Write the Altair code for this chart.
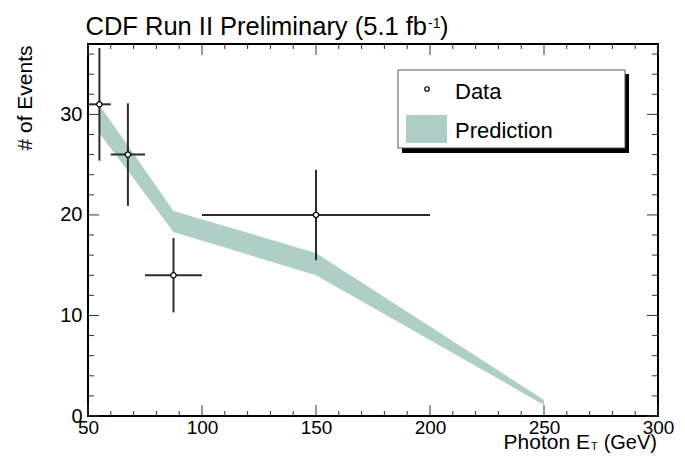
import altair as alt
import pandas as pd

FONT = "Liberation Sans"

# ---- data points (bins, counts, errors) ----
data_x = [55, 67.5, 87.5, 150]
data_xlo = [50, 60, 75, 100]
data_xhi = [60, 75, 100, 200]
data_y = [31, 26, 14, 20]
data_ylo = [25.4, 20.9, 10.3, 15.5]
data_yhi = [36.6, 31.1, 17.7, 24.5]

# ---- prediction band ----
pred_x = [55, 67.5, 87.5, 150, 250]
pred_hi = [30.9, 26.9, 20.4, 16.2, 1.6]
pred_lo = [28.1, 24.4, 18.3, 14.0, 1.1]

# ---- ticks ----
x_major = [50, 100, 150, 200, 250, 300]
x_minor = [v for v in range(60, 300, 10) if v % 50 != 0]
y_major = [0, 10, 20, 30]
y_minor = [v for v in range(2, 37, 2) if v % 10 != 0]

X_DOM = [50, 300]
Y_DOM = [0, 37]
W, H = 570, 372
BAND = "#aecec6"
BAR = "#2b2b2b"

pts = pd.DataFrame({"x": data_x, "xlo": data_xlo, "xhi": data_xhi,
                    "y": data_y, "ylo": data_ylo, "yhi": data_yhi})
band_df = pd.DataFrame({"x": pred_x, "hi": pred_hi, "lo": pred_lo})

xs = alt.Scale(domain=X_DOM, nice=False, zero=False)
ys = alt.Scale(domain=Y_DOM, nice=False, zero=False)

AX = alt.Axis(values=x_major, ticks=False, domain=False, grid=False, title=None,
              labelFontSize=19, labelPadding=2, labelColor="black", labelFont=FONT,
              labelFlush=False, format="d")
AY = alt.Axis(values=y_major, ticks=False, domain=False, grid=False,
              labelFontSize=20, labelPadding=6, labelColor="black", labelFont=FONT,
              title="# of Events", titleFont=FONT, titleFontSize=21,
              titleFontWeight="normal", titleColor="black",
              titleX=-57, titleY=1, titleAngle=270, titleAlign="right",
              titleBaseline="alphabetic", format="d")

band = alt.Chart(band_df).mark_area(color=BAND, opacity=1).encode(
    x=alt.X("x:Q", scale=xs, axis=AX),
    y=alt.Y("hi:Q", scale=ys, axis=AY),
    y2="lo:Q",
)

hbars = alt.Chart(pts).mark_rule(color=BAR, strokeWidth=2).encode(
    x=alt.X("xlo:Q", scale=xs, axis=AX), x2="xhi:Q",
    y=alt.Y("y:Q", scale=ys, axis=AY))
vbars = alt.Chart(pts).mark_rule(color=BAR, strokeWidth=2).encode(
    x=alt.X("x:Q", scale=xs, axis=AX),
    y=alt.Y("ylo:Q", scale=ys, axis=AY), y2="yhi:Q")
dots = alt.Chart(pts).mark_point(shape="circle", filled=True, fill="white",
                                 stroke="black", strokeWidth=1.2, size=28,
                                 opacity=1).encode(
    x=alt.X("x:Q", scale=xs, axis=AX),
    y=alt.Y("y:Q", scale=ys, axis=AY))

TICK = "#333333"
def xticks(vals, ln):
    df = pd.DataFrame({"v": vals})
    bot = alt.Chart(df).mark_rule(color=TICK, strokeWidth=1).encode(
        x=alt.X("v:Q", scale=xs, axis=AX), y=alt.value(H), y2=alt.value(H - ln))
    top = alt.Chart(df).mark_rule(color=TICK, strokeWidth=1).encode(
        x=alt.X("v:Q", scale=xs, axis=AX), y=alt.value(0), y2=alt.value(ln))
    return [bot, top]

def yticks(vals, ln):
    df = pd.DataFrame({"v": vals})
    lft = alt.Chart(df).mark_rule(color=TICK, strokeWidth=1).encode(
        y=alt.Y("v:Q", scale=ys, axis=AY), x=alt.value(0), x2=alt.value(ln))
    rgt = alt.Chart(df).mark_rule(color=TICK, strokeWidth=1).encode(
        y=alt.Y("v:Q", scale=ys, axis=AY), x=alt.value(W), x2=alt.value(W - ln))
    return [lft, rgt]

ticks = xticks(x_major, 11) + xticks(x_minor, 5) + yticks(y_major, 11) + yticks(y_minor, 6)

def txt(s, x, y, size, align="left"):
    return alt.Chart(pd.DataFrame({"t": [s]})).mark_text(
        align=align, baseline="alphabetic", font=FONT, fontSize=size,
        color="black").encode(text="t:N", x=alt.value(x), y=alt.value(y))

# title pieces
title_parts = [
    txt("CDF Run II Preliminary (5.1 fb", 339, -9, 25.5, "right"),
    txt("-1", 340, -16, 14),
    txt(")", 352, -9, 25.5),
]
xtitle_parts = [
    txt("Photon E", 502, 405, 21, "right"),
    txt("T", 503, 406, 11),
    txt("(GeV)", 569, 405, 20, "right"),
]

# legend
one = pd.DataFrame({"a": [0]})
leg_shadow = alt.Chart(one).mark_rect(color="black").encode(
    x=alt.value(314), x2=alt.value(541), y=alt.value(30), y2=alt.value(109))
leg_box = alt.Chart(one).mark_rect(fill="white", stroke="#555555", strokeWidth=1).encode(
    x=alt.value(310), x2=alt.value(537), y=alt.value(26), y2=alt.value(104))
leg_dot = alt.Chart(one).mark_point(shape="circle", filled=True, fill="white",
                                    stroke="black", strokeWidth=1.2, size=20,
                                    opacity=1).encode(x=alt.value(339), y=alt.value(45))
leg_rect = alt.Chart(one).mark_rect(color=BAND).encode(
    x=alt.value(318), x2=alt.value(359), y=alt.value(71), y2=alt.value(99))
legend = [leg_shadow, leg_box, leg_dot, leg_rect,
          txt("Data", 367, 55, 22), txt("Prediction", 367, 94, 22)]

chart = alt.layer(band, hbars, vbars, dots, *ticks, *legend,
                  *title_parts, *xtitle_parts).properties(
    width=W, height=H,
    autosize=alt.AutoSizeParams(type="none"),
    padding={"left": 80, "top": 36, "right": 19, "bottom": 37},
    background="white",
).configure_view(stroke="black", strokeWidth=2)

chart.save("out.html", embed_options={"renderer": "svg", "actions": False})
